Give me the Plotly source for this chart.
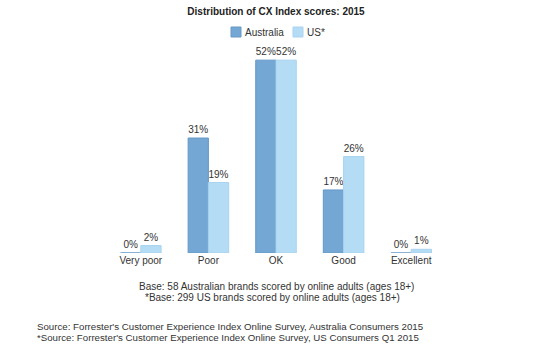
import plotly.graph_objects as go

categories = ["Very poor", "Poor", "OK", "Good", "Excellent"]
australia = [0, 31, 52, 17, 0]
us = [2, 19, 52, 26, 1]
series_names = ["Australia", "US*"]
colors = ["#74a7d3", "#b4dcf4"]
edge_colors = ["#6499c7", "#a8d3ef"]

FONT = "Liberation Sans, Arial, Helvetica, sans-serif"
TXT = "#333333"

fig = go.Figure()
for name, vals, c, ec in zip(series_names, [australia, us], colors, edge_colors):
    fig.add_trace(go.Bar(
        name=name, x=categories, y=vals,
        marker=dict(color=c, line=dict(color=ec, width=1)),
        text=[f"{v}%" for v in vals], textposition="outside",
        textfont=dict(size=10, color=TXT, family=FONT), cliponaxis=False,
        showlegend=False,
    ))

L, R, T, B = 107, 95, 49, 101
W = 540 - L - R
H = 354 - T - B
def px_x(px):
    return (px - L) / W
def px_y(py):
    return (354 - B - py) / H

notes = [
    ("Base: 58 Australian brands scored by online adults (ages 18+)", 286, 276, 10),
    ("*Base: 299 US brands scored by online adults (ages 18+)", 297, 272, 10),
    ("Source: Forrester's Customer Experience Index Online Survey, Australia Consumers 2015", 326, 230, 9.7),
    ("*Source: Forrester's Customer Experience Index Online Survey, US Consumers Q1 2015", 337, 228, 9.7),
]
annotations = [
    dict(text=t, x=px_x(x), y=px_y(y), xref="paper", yref="paper", xanchor="center",
         yanchor="middle", showarrow=False, font=dict(size=s, color=TXT, family=FONT))
    for t, y, x, s in notes
]

# manual legend
legend_items = [(231, 243), (293, 305)]
shapes = []
for (sx, tx), name, c, ec in zip(legend_items, series_names, colors, edge_colors):
    shapes.append(dict(type="rect", xref="paper", yref="paper",
                       x0=px_x(sx), x1=px_x(sx + 10), y0=px_y(37), y1=px_y(27),
                       fillcolor=c, line=dict(color=ec, width=1)))
    annotations.append(dict(text=name, x=px_x(tx), y=px_y(32), xref="paper", yref="paper",
                            xanchor="left", yanchor="middle", showarrow=False,
                            font=dict(size=10, color=TXT, family=FONT)))

fig.update_layout(
    width=540, height=354,
    margin=dict(l=L, r=R, t=T, b=B),
    paper_bgcolor="white", plot_bgcolor="white",
    barmode="group", bargap=0.4, bargroupgap=0,
    title=dict(text="<b>Distribution of CX Index scores: 2015</b>", x=(276 / 540), xanchor="center",
               y=1 - 11 / 354, yanchor="middle", font=dict(size=10, color="#222222", family=FONT)),
    showlegend=False,
    xaxis=dict(showgrid=False, showline=False, ticks="", tickfont=dict(size=10, color=TXT, family=FONT)),
    yaxis=dict(range=[0, 55], visible=False),
    annotations=annotations,
    shapes=shapes,
    font=dict(family=FONT),
)

fig.write_html("out.html")
